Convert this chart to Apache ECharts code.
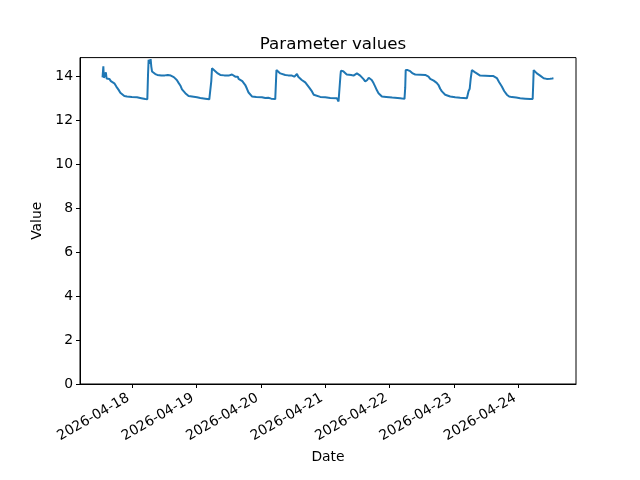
<!DOCTYPE html>
<html>
<head>
<meta charset="utf-8">
<script src="https://cdn.jsdelivr.net/npm/echarts@6/dist/echarts.min.js"></script>
<style>html,body{margin:0;padding:0;background:#fff}#c{width:640px;height:480px}</style>
</head>
<body>
<div id="c"></div>
<script>
// Hours since 2026-04-17 00:00
const hours = [13.1,13.4,13.58,13.95,14.33,14.6,15.07,15.63,16.19,16.74,17.49,18.23,19.09,19.72,20.35,21.2,22.21,24.0,25.93,27.53,29.02,29.77,30.03,30.25,30.51,30.77,31.0,31.26,31.52,32.0,32.74,33.49,34.23,34.98,35.72,36.28,36.84,37.4,37.95,38.51,39.07,39.63,40.19,40.74,41.41,42.05,42.68,43.27,43.91,44.54,45.13,45.77,48.26,49.49,51.35,52.84,53.4,53.58,53.84,54.44,55.07,56.0,56.93,58.42,60.02,61.28,61.95,62.51,63.14,63.44,63.74,64.37,65.12,65.67,66.23,66.86,67.45,68.09,68.72,70.32,72.44,73.67,74.79,75.9,77.39,77.65,77.84,78.51,79.26,79.89,81.12,82.24,83.61,84.47,85.02,85.47,85.95,86.51,87.26,87.93,88.56,89.19,90.05,91.05,91.72,92.28,94.14,96.0,97.86,100.35,100.95,101.39,101.69,101.84,102.7,103.44,104.0,104.67,105.67,106.53,107.16,107.79,108.46,109.02,109.66,110.33,110.88,111.63,112.19,112.74,113.3,113.97,114.6,115.23,115.83,116.46,117.09,118.69,120.93,123.9,125.5,125.77,125.95,126.7,127.63,128.56,129.49,131.35,133.21,134.44,135.07,135.7,136.37,136.93,137.49,138.16,138.79,139.42,140.02,140.65,142.51,144.37,146.23,148.73,149.02,149.32,149.77,150.14,150.58,151.18,151.81,152.44,153.67,155.53,157.39,158.62,159.25,159.88,160.74,161.74,162.6,163.6,164.46,165.47,167.07,168.56,170.42,172.28,173.21,173.4,173.59,174.14,174.78,175.45,176.0,176.64,177.31,177.86,178.42,179.09,179.72,180.47,180.95];
const values = [13.97,14.47,13.95,13.88,14.2,13.92,13.85,13.9,13.8,13.77,13.7,13.55,13.4,13.27,13.18,13.12,13.1,13.07,13.06,13.02,12.98,12.97,14.1,14.77,14.82,14.6,14.8,14.45,14.24,14.15,14.12,14.08,14.1,14.05,14.12,14.06,14.15,14.08,14.12,14.05,14.1,13.98,13.94,13.85,13.72,13.6,13.42,13.33,13.25,13.18,13.12,13.1,13.06,13.03,13.0,12.97,12.96,13.8,14.38,14.32,14.25,14.15,14.08,14.06,14.05,14.1,14.05,14.0,13.94,14.0,13.9,13.86,13.8,13.72,13.62,13.45,13.28,13.2,13.1,13.07,13.06,13.03,13.04,13.0,12.98,12.98,14.3,14.27,14.15,14.1,14.08,14.06,14.05,14.0,14.05,14.12,14.0,13.97,13.85,13.78,13.74,13.7,13.5,13.33,13.18,13.1,13.08,13.06,13.03,13.02,12.87,12.95,14.1,14.27,14.25,14.22,14.1,14.07,14.08,14.05,14.1,14.15,14.08,14.05,14.0,13.88,13.78,13.85,13.95,13.97,13.85,13.71,13.55,13.38,13.25,13.16,13.1,13.08,13.05,13.02,12.99,13.5,14.3,14.3,14.25,14.15,14.1,14.09,14.08,14.0,13.9,13.86,13.82,13.83,13.72,13.62,13.45,13.33,13.25,13.18,13.1,13.06,13.04,13.02,13.1,13.33,13.45,13.9,14.3,14.28,14.2,14.15,14.05,14.04,14.03,14.03,14.0,13.94,13.75,13.55,13.35,13.18,13.1,13.07,13.05,13.02,13.0,12.98,12.98,13.6,14.3,14.25,14.15,14.1,14.05,14.0,13.93,13.9,13.9,13.92,13.91,13.92,13.93];
const tickLabels = ['2026-04-18','2026-04-19','2026-04-20','2026-04-21','2026-04-22','2026-04-23','2026-04-24'];
const tickHours = [24,48,72,96,120,144,168];
const yTicks = [0,2,4,6,8,10,12,14];

const data = hours.map((h,i)=>[h, values[i]]);
const span = hours[hours.length-1]-hours[0];
const xMin = hours[0]-0.05*span, xMax = hours[hours.length-1]+0.05*span;
const font = 'DejaVu Sans';
const chart = echarts.init(document.getElementById('c'), null, {renderer:'canvas'});
chart.setOption({
  animation:false,
  backgroundColor:'#fff',
  title:{text:'Parameter values', left:328, textAlign:'center', top:31,
    textStyle:{fontFamily:font, fontSize:16.7, fontWeight:'normal', color:'#000'}},
  grid:{left:80, right:64, top:57.6, bottom:96, show:true, borderColor:'#000', borderWidth:1, backgroundColor:'transparent'},
  xAxis:{type:'value', min:xMin, max:xMax, name:'Date', nameLocation:'middle', nameGap:66,
    nameTextStyle:{fontFamily:font, fontSize:13.9, color:'#000'},
    axisLine:{show:true, lineStyle:{color:'#000', width:1}},
    axisTick:{show:true, length:4, lineStyle:{color:'#000', width:1}, customValues:tickHours},
    axisLabel:{rotate:30, margin:11, padding:[0,4,0,0], fontFamily:font, fontSize:13.9, color:'#000', customValues:tickHours,
      formatter:(v)=>{const i=tickHours.indexOf(Math.round(v)); return i>=0?tickLabels[i]:'';}},
    splitLine:{show:false}},
  yAxis:{type:'value', min:0, max:14.87, name:'Value', nameLocation:'middle', nameGap:35, nameRotate:90,
    nameTextStyle:{fontFamily:font, fontSize:13.9, color:'#000'},
    axisLine:{show:true, lineStyle:{color:'#000', width:1}},
    axisTick:{show:true, length:4, lineStyle:{color:'#000', width:1}, customValues:yTicks},
    axisLabel:{margin:7, fontFamily:font, fontSize:13.9, color:'#000', customValues:yTicks},
    splitLine:{show:false}},
  series:[{type:'line', data:data, showSymbol:false, symbol:'none',
    lineStyle:{color:'#1f77b4', width:2}, itemStyle:{color:'#1f77b4'}, clip:true}]
});
</script>
</body>
</html>
